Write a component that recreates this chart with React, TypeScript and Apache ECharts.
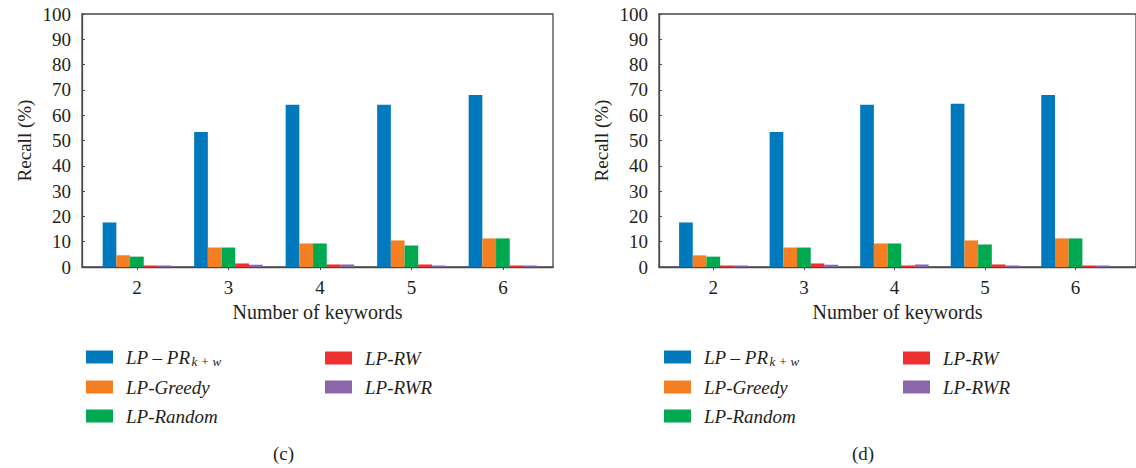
import React, { useEffect, useRef } from "react";
import * as echarts from "echarts";

const keywords = [2, 3, 4, 5, 6];
const seriesNames = ["PR", "LP-Greedy", "LP-Random", "LP-RW", "LP-RWR"];
const colors = ["#0079bd", "#f47f22", "#00a94f", "#ee3030", "#8c66aa"];

// panel (c)
const prC = [17.6, 53.4, 64.1, 64.1, 68.0];
const greedyC = [4.6, 7.7, 9.3, 10.5, 11.3];
const randomC = [4.1, 7.7, 9.3, 8.5, 11.3];
const rwC = [0.6, 1.4, 1.0, 1.0, 0.6];
const rwrC = [0.6, 0.9, 1.0, 0.6, 0.6];

// panel (d)
const prD = [17.6, 53.4, 64.1, 64.5, 68.0];
const greedyD = [4.6, 7.7, 9.3, 10.5, 11.3];
const randomD = [4.1, 7.7, 9.3, 8.9, 11.3];
const rwD = [0.6, 1.4, 0.6, 1.0, 0.6];
const rwrD = [0.6, 0.9, 1.0, 0.6, 0.6];

const yTicks = [0, 10, 20, 30, 40, 50, 60, 70, 80, 90, 100];
const panelLabels = ["(c)", "(d)"];

const FONT = "'Liberation Serif', 'Times New Roman', serif";
const TEXT = "#231f20";
const LINE = "#4a4a4a";

export default function App() {
  const ref = useRef<HTMLDivElement>(null);

  useEffect(() => {
    if (!ref.current) return;
    const chart = echarts.init(ref.current, undefined, { renderer: "svg" });

    const panels = [
      [prC, greedyC, randomC, rwC, rwrC],
      [prD, greedyD, randomD, rwD, rwrD],
    ];
    const grids = [
      { left: 82, top: 14, width: 471, height: 253 },
      { left: 659, top: 14, width: 482, height: 253 },
    ];
    const pxPerUnit = 91.5;
    const xMin = 1.4;

    const xAxes = grids.map((g, i) => ({
      type: "value",
      gridIndex: i,
      min: xMin,
      max: xMin + g.width / pxPerUnit,
      splitLine: { show: false },
      axisLine: { show: true, lineStyle: { color: LINE, width: 1.3 } },
      axisTick: { show: true, length: 3, customValues: keywords, lineStyle: { color: LINE } },
      axisLabel: {
        customValues: keywords,
        fontFamily: FONT,
        fontSize: 19,
        color: TEXT,
        margin: 11,
        formatter: (v: number) => String(v),
      },
      name: "Number of keywords",
      nameLocation: "middle",
      nameGap: 26,
      nameTextStyle: { fontFamily: FONT, fontSize: 20, color: TEXT },
    }));

    const yAxes = grids.map((_, i) => ({
      type: "value",
      gridIndex: i,
      min: 0,
      max: 100,
      interval: 10,
      splitLine: { show: false },
      axisLine: { show: true, lineStyle: { color: LINE, width: 1.3 } },
      axisTick: { show: true, inside: true, length: 3, lineStyle: { color: LINE } },
      axisLabel: {
        fontFamily: FONT,
        fontSize: 19,
        color: TEXT,
        margin: 11,
        formatter: (v: number) => (yTicks.includes(v) ? String(v) : ""),
      },
      name: "Recall (%)",
      nameLocation: "middle",
      nameRotate: 90,
      nameGap: 48,
      nameTextStyle: { fontFamily: FONT, fontSize: 19, color: TEXT },
    }));

    const series: any[] = [];
    panels.forEach((vals, p) => {
      vals.forEach((arr, s) => {
        series.push({
          type: "bar",
          name: seriesNames[s],
          xAxisIndex: p,
          yAxisIndex: p,
          barWidth: 13.7,
          barGap: "0%",
          itemStyle: { color: colors[s] },
          data: keywords.map((k, j) => [k, arr[j]]),
        });
      });
    });

    const legendText = {
      fontFamily: FONT,
      fontStyle: "italic",
      fontSize: 19,
      color: TEXT,
      lineHeight: 20,
      padding: [0, 0, 0, 8],
      rich: {
        a: { fontFamily: FONT, fontStyle: "italic", fontSize: 19, color: TEXT, lineHeight: 20 },
        s: {
          fontFamily: FONT,
          fontStyle: "italic",
          fontSize: 13,
          color: TEXT,
          lineHeight: 11,
          padding: [9, 0, 0, 1],
        },
      },
    };
    const fmt = (name: string) => (name === "PR" ? "{a|LP – PR}{s|k + w}" : name);
    const legendCols = [
      { data: seriesNames.slice(0, 3), lefts: [81, 659], top: 341 },
      { data: seriesNames.slice(3), lefts: [320, 898], top: 343 },
    ];
    const legends: any[] = [];
    legendCols.forEach((c) => {
      c.lefts.forEach((l) => {
        legends.push({
          orient: "vertical",
          left: l,
          top: c.top,
          itemWidth: 27,
          itemHeight: 13,
          itemGap: 9,
          icon: "rect",
          selectedMode: false,
          data: c.data,
          formatter: fmt,
          textStyle: legendText,
        });
      });
    });

    chart.setOption({
      animation: false,
      backgroundColor: "#ffffff",
      grid: grids.map((g) => ({
        ...g,
        show: true,
        borderColor: LINE,
        borderWidth: 1.3,
        backgroundColor: "transparent",
      })),
      xAxis: xAxes,
      yAxis: yAxes,
      legend: legends,
      series,
      graphic: panelLabels.map((t, i) => ({
        type: "text",
        left: i === 0 ? 273 : 852,
        top: 444,
        style: { text: t, fontFamily: FONT, fontSize: 19, fill: TEXT },
      })),
    });

    return () => chart.dispose();
  }, []);

  return (
    <div
      ref={ref}
      style={{ position: "absolute", left: 0, top: 0, width: 1136, height: 468 }}
    />
  );
}
